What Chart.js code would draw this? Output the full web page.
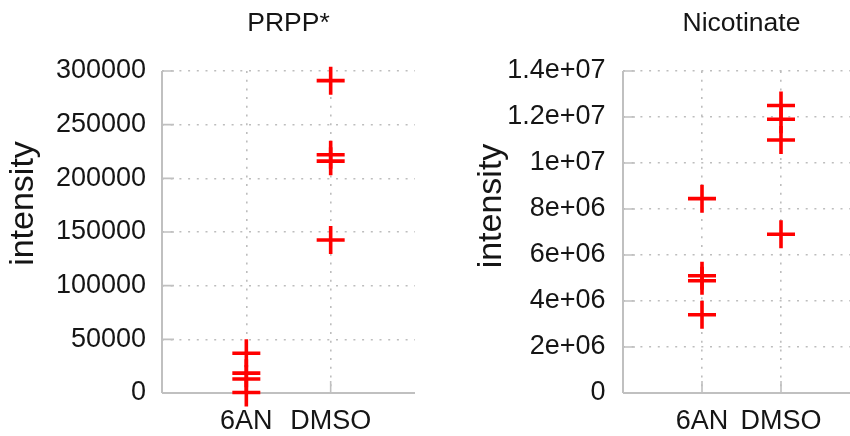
<!DOCTYPE html>
<html>
<head>
<meta charset="utf-8">
<script src="https://cdn.jsdelivr.net/npm/chart.js@4/dist/chart.umd.min.js"></script>
<style>
  html, body { margin: 0; padding: 0; background: #ffffff; overflow: hidden; width: 850px; height: 436px; }
  #wrap { position: relative; width: 850px; height: 436px; overflow: hidden; }
  canvas { position: absolute; top: 0; }
</style>
</head>
<body>
<div id="wrap">
  <canvas id="c1" width="425" height="436" style="left:0px"></canvas>
  <canvas id="c2" width="440" height="436" style="left:425px"></canvas>
</div>
<script>
// ---- data ----
const categories = ['6AN', 'DMSO'];
const prppTitle = 'PRPP*';
const nicTitle = 'Nicotinate';
const yAxisLabel = 'intensity';
const prpp6AN = [37000, 18500, 13000, 500];
const prppDMSO = [291000, 222000, 216000, 142500];
const nic6AN = [8.45e6, 5.1e6, 4.88e6, 3.4e6];
const nicDMSO = [1.25e7, 1.19e7, 1.10e7, 6.9e6];
const prppTickLabels = ['0', '50000', '100000', '150000', '200000', '250000', '300000'];
const nicTickLabels = ['0', '2e+06', '4e+06', '6e+06', '8e+06', '1e+07', '1.2e+07', '1.4e+07'];

// ---- styling ----
const FONT = 'Liberation Sans, Arial, Helvetica, sans-serif';
const RED = '#ff0000';
const AXIS = '#c0c0c0';
const GRID = '#bdbdbd';
const TEXT = '#151515';

const axisAndTicks = {
  id: 'axisAndTicks',
  beforeDatasetsDraw(chart) {
    const ctx = chart.ctx, a = chart.chartArea;
    const xs = chart.scales.x, ys = chart.scales.y;
    ctx.save();
    ctx.strokeStyle = AXIS;
    ctx.lineWidth = 2;
    ctx.beginPath();
    ctx.moveTo(a.left, a.top); ctx.lineTo(a.left, a.bottom);
    ctx.moveTo(a.left, a.bottom); ctx.lineTo(a.right, a.bottom);
    ctx.stroke();
    ctx.lineWidth = 1.6;
    ctx.beginPath();
    ys.ticks.forEach(t => {
      const py = ys.getPixelForValue(t.value);
      ctx.moveTo(a.left, py); ctx.lineTo(a.left + 12, py);
    });
    xs.ticks.forEach(t => {
      const px = xs.getPixelForValue(t.value);
      ctx.moveTo(px, a.bottom); ctx.lineTo(px, a.bottom - 12);
    });
    ctx.stroke();
    ctx.restore();
  }
};

const yLabelPlugin = {
  id: 'yLabel',
  afterDraw(chart, args, opts) {
    const ctx = chart.ctx;
    ctx.save();
    ctx.translate(opts.x, opts.y);
    ctx.rotate(-Math.PI / 2);
    ctx.font = '34px ' + FONT;
    ctx.fillStyle = TEXT;
    ctx.textAlign = 'center';
    ctx.textBaseline = 'middle';
    ctx.fillText(opts.text, 0, 0);
    ctx.restore();
  }
};

function points(values, catIndex) {
  return values.map(v => ({ x: catIndex + 1, y: v }));
}

function makeChart(id, title, a6AN, aDMSO, yMax, yStep, tickLabels, yWidth, padRight, labelPos, tickPad) {
  return new Chart(document.getElementById(id), {
    type: 'scatter',
    data: {
      datasets: [
        { data: points(a6AN, 0) },
        { data: points(aDMSO, 1) }
      ].map(d => Object.assign(d, {
        pointStyle: 'cross',
        pointRadius: 14,
        pointHoverRadius: 14,
        borderWidth: 3.6,
        borderColor: RED,
        backgroundColor: RED,
        showLine: false,
        clip: false
      }))
    },
    options: {
      responsive: false,
      animation: false,
      events: [],
      layout: { autoPadding: false, padding: { left: 0, right: padRight, top: 0, bottom: 0 } },
      plugins: {
        legend: { display: false },
        tooltip: { enabled: false },
        title: {
          display: true,
          text: title,
          fullSize: false,
          color: TEXT,
          font: { family: FONT, size: 26.5, weight: 'normal', lineHeight: 1.2 },
          padding: { top: 8, bottom: 31.2 }
        },
        yLabel: { text: yAxisLabel, x: labelPos[0], y: labelPos[1] }
      },
      scales: {
        x: {
          type: 'linear',
          min: 0, max: 3,
          afterBuildTicks: s => { s.ticks = categories.map((c, i) => ({ value: i + 1 })); },
          afterFit: s => { s.height = 43; },
          ticks: {
            callback: (v) => categories[v - 1],
            color: TEXT,
            font: { family: FONT, size: 27 },
            padding: 12.5,
            maxRotation: 0,
            autoSkip: false
          },
          grid: {
            drawTicks: false,
            color: GRID,
            lineWidth: 1.6
          },
          border: { display: false, dash: [2, 6.7] }
        },
        y: {
          type: 'linear',
          min: 0, max: yMax,
          afterFit: s => { s.width = yWidth; },
          ticks: {
            stepSize: yStep,
            callback: (v, i) => tickLabels[i],
            color: TEXT,
            font: { family: FONT, size: 27 },
            padding: tickPad
          },
          grid: {
            drawTicks: false,
            color: GRID,
            lineWidth: 1.6
          },
          border: { display: false, dash: [2, 6.7] }
        }
      }
    },
    plugins: [axisAndTicks, yLabelPlugin]
  });
}

makeChart('c1', prppTitle, prpp6AN, prppDMSO, 300000, 50000, prppTickLabels, 162, 10, [23.5, 203.5], 16);
makeChart('c2', nicTitle, nic6AN, nicDMSO, 1.4e7, 2e6, nicTickLabels, 198, 5, [66.5, 206], 17.5);
</script>
</body>
</html>
